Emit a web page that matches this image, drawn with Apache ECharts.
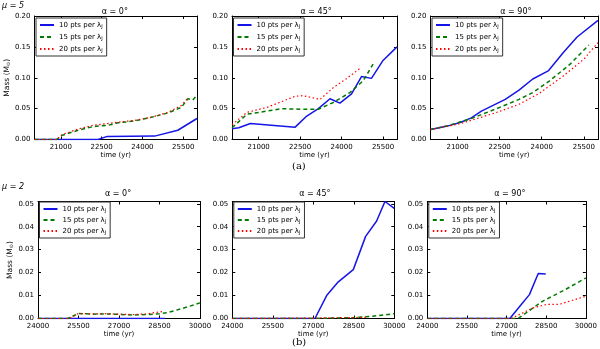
<!DOCTYPE html>
<html>
<head>
<meta charset="utf-8">
<script src="https://cdn.jsdelivr.net/npm/echarts@6/dist/echarts.min.js"></script>
<style>
  html, body { margin: 0; padding: 0; background: #fff; }
  #chart { width: 600px; height: 349px; }
</style>
</head>
<body>
<div id="chart"></div>
<script>
// tick values
const topTimeTicks = [21000, 22500, 24000, 25500];
const bottomTimeTicks = [24000, 25500, 27000, 28500, 30000];
const topMassTicks = [0, 0.05, 0.1, 0.15, 0.2];
const bottomMassTicks = [0, 0.01, 0.02, 0.03, 0.04, 0.05];

const resolutions = ['10', '15', '20'];
const angles = ['0', '45', '90'];

// mu = 5, [time (yr), mass (Msun)]
const mu5a0_10 = [[20035, 0], [22370, 0], [22710, 0.005], [24450, 0.0055], [25300, 0.015], [26005, 0.034]];
const mu5a0_15 = [[20035, 0], [20850, 0], [21030, 0.0065], [21640, 0.015], [22190, 0.021], [22740, 0.023], [23100, 0.027], [23710, 0.030], [24330, 0.036], [24940, 0.043], [25430, 0.052], [25670, 0.066], [25850, 0.064], [26005, 0.072]];
const mu5a0_20 = [[20035, 0], [20850, 0], [21050, 0.008], [21640, 0.017], [22190, 0.023], [22740, 0.026], [23100, 0.028], [23710, 0.031], [24330, 0.036], [24940, 0.044], [25430, 0.055], [25650, 0.066]];

const mu5a45_10 = [[20035, 0.0174], [20280, 0.019], [20700, 0.026], [22320, 0.020], [22740, 0.038], [23160, 0.050], [23580, 0.066], [23940, 0.059], [24360, 0.074], [24720, 0.102], [25080, 0.099], [25500, 0.128], [26005, 0.150]];
const mu5a45_15 = [[20035, 0.019], [20580, 0.041], [21300, 0.046], [21840, 0.050], [22500, 0.049], [23160, 0.049], [23700, 0.060], [24300, 0.076], [24780, 0.095], [25140, 0.122]];
const mu5a45_20 = [[20035, 0.024], [20580, 0.044], [21300, 0.052], [22320, 0.070], [22600, 0.071], [23220, 0.065], [23700, 0.084], [24160, 0.098], [24720, 0.117]];

const mu5a90_10 = [[20035, 0.0163], [20635, 0.0217], [21120, 0.028], [21490, 0.035], [21850, 0.046], [22700, 0.065], [23190, 0.080], [23680, 0.098], [24230, 0.111], [24770, 0.141], [25260, 0.166], [26005, 0.193]];
const mu5a90_15 = [[20035, 0.0163], [20635, 0.022], [21490, 0.034], [22340, 0.049], [23190, 0.065], [23680, 0.076], [24280, 0.095], [25010, 0.122], [25680, 0.153]];
const mu5a90_20 = [[20035, 0.016], [21120, 0.026], [22340, 0.043], [23190, 0.057], [23920, 0.075], [24770, 0.103], [25500, 0.130], [26005, 0.157]];

// mu = 2
const mu2a0_10 = [[24000, 0], [28700, 0]];
const mu2a0_15 = [[24000, 0], [25100, 0], [25500, 0.0022], [26000, 0.0019], [26500, 0.002], [27000, 0.0018], [27500, 0.0015], [28000, 0.0017], [28500, 0.0021], [28800, 0.0026], [29300, 0.0042], [30000, 0.0068]];
const mu2a0_20 = [[24000, 0], [25150, 0], [25500, 0.0022], [26000, 0.002], [26500, 0.0021], [27000, 0.0019], [27500, 0.0017], [28000, 0.002], [28400, 0.0027], [28600, 0.003]];

const mu2a45_10 = [[24000, 0], [27062, 0], [27494, 0.0100], [27926, 0.0160], [28481, 0.0213], [28938, 0.0358], [29346, 0.0425], [29654, 0.0510], [30000, 0.0480]];
const mu2a45_15 = [[24000, 0], [27000, 0], [28500, 0.0004], [29200, 0.001], [30000, 0.0021]];
const mu2a45_20 = [[24000, 0], [27000, 0.0002], [29000, 0.0005]];

const mu2a90_10 = [[24000, 0], [27123, 0], [27556, 0.0061], [27864, 0.0104], [28198, 0.0196], [28481, 0.0194]];
const mu2a90_15 = [[24000, 0], [27432, 0], [28358, 0.0075], [29222, 0.0126], [30000, 0.0177]];
const mu2a90_20 = [[24000, 0], [27185, 0], [27988, 0.0046], [28543, 0.0062], [29000, 0.0062], [30000, 0.0097]];

const panelData = [
  [mu5a0_10, mu5a0_15, mu5a0_20],
  [mu5a45_10, mu5a45_15, mu5a45_20],
  [mu5a90_10, mu5a90_15, mu5a90_20],
  [mu2a0_10, mu2a0_15, mu2a0_20],
  [mu2a45_10, mu2a45_15, mu2a45_20],
  [mu2a90_10, mu2a90_15, mu2a90_20]
];

const font = 'DejaVu Sans';
const lineStyles = [
  { color: '#1515e8', width: 1.5, type: 'solid' },
  { color: '#007a00', width: 1.5, type: [4, 3] },
  { color: '#ff0000', width: 1.2, type: [1.5, 2.5] }
];

// grid boxes in px
const grids = [
  { left: 34.5, top: 16, width: 162.5, height: 123.5 },
  { left: 232, top: 16, width: 165, height: 123.5 },
  { left: 430.5, top: 16, width: 167.5, height: 123.5 },
  { left: 38, top: 201.5, width: 162, height: 117 },
  { left: 232.3, top: 201.5, width: 162, height: 117 },
  { left: 427.3, top: 201.5, width: 162, height: 117 }
];

const xAxes = [], yAxes = [], series = [], legends = [], texts = [];

grids.forEach((g, i) => {
  const top = i < 3;
  const xTicks = top ? topTimeTicks : bottomTimeTicks;
  const yTicks = top ? topMassTicks : bottomMassTicks;
  const xRange = top ? [20035, 26005] : [24000, 30000];
  const yMax = top ? 0.2 : 0.051;
  const axisLine = { onZero: false, lineStyle: { color: '#000', width: 1 } };

  ['bottom', 'top'].forEach((pos) => {
    xAxes.push({
      type: 'value', gridIndex: i, position: pos, min: xRange[0], max: xRange[1],
      axisLine: axisLine,
      axisTick: { inside: true, length: 3, customValues: xTicks, lineStyle: { color: '#000' } },
      axisLabel: {
        show: pos === 'bottom', customValues: xTicks, margin: 4,
        fontFamily: font, fontSize: 7, color: '#000', formatter: (v) => String(v)
      },
      splitLine: { show: false },
      name: pos === 'bottom' ? 'time (yr)' : '',
      nameLocation: 'middle', nameGap: 12,
      nameTextStyle: { fontFamily: font, fontSize: 7, color: '#000' }
    });
  });

  ['left', 'right'].forEach((pos) => {
    const showName = pos === 'left' && (i === 0 || i === 3);
    yAxes.push({
      type: 'value', gridIndex: i, position: pos, min: 0, max: yMax,
      axisLine: axisLine,
      axisTick: { inside: true, length: 3, customValues: yTicks, lineStyle: { color: '#000' } },
      axisLabel: {
        show: pos === 'left', customValues: yTicks, margin: 4,
        fontFamily: font, fontSize: 7, color: '#000', formatter: (v) => v.toFixed(2)
      },
      splitLine: { show: false },
      name: showName ? 'Mass (M{s|⊙})' : '',
      nameLocation: 'middle', nameGap: 21, nameRotate: 90,
      nameTextStyle: {
        fontFamily: font, fontSize: 7.5, color: '#000',
        rich: { s: { fontFamily: font, fontSize: 5, verticalAlign: 'bottom' } }
      }
    });
  });

  panelData[i].forEach((points, k) => {
    series.push({
      type: 'line', name: resolutions[k], xAxisIndex: 2 * i, yAxisIndex: 2 * i,
      data: points, symbol: 'none', lineStyle: lineStyles[k], itemStyle: { color: lineStyles[k].color },
      clip: true, z: 2 + k
    });
  });

  legends.push({
    orient: 'vertical', left: g.left + 1.5, top: g.top + (top ? 2 : 0.5),
    data: resolutions, itemWidth: 14, itemHeight: 8, itemGap: top ? 4 : 3,
    padding: [3, 4, 3, 3], backgroundColor: '#fff', borderColor: '#333', borderWidth: 1,
    selectedMode: false,
    // hide the marker that the line icon carries, keep only the stroke
    itemStyle: { opacity: 0 },
    formatter: (name) => name + ' pts per λ{s|J}',
    textStyle: {
      fontFamily: font, fontSize: 7, color: '#000', lineHeight: 8,
      rich: { s: { fontFamily: font, fontSize: 5, verticalAlign: 'bottom', lineHeight: 8 } }
    }
  });

  texts.push({
    type: 'text', left: g.left + g.width / 2 - 14, top: top ? 8 : 190,
    style: { text: 'α = ' + angles[i % 3] + '°', font: '8px "DejaVu Sans"', fill: '#000' }
  });
});

texts.push(
  { type: 'text', left: 2, top: 2, style: { text: 'μ = 5', font: 'italic 8px "DejaVu Sans"', fill: '#000' } },
  { type: 'text', left: 2, top: 183, style: { text: 'μ = 2', font: 'italic 8px "DejaVu Sans"', fill: '#000' } },
  { type: 'text', left: 292, top: 161, style: { text: '(a)', font: '10px "DejaVu Serif"', fill: '#000' } },
  { type: 'text', left: 292, top: 337, style: { text: '(b)', font: '10px "DejaVu Serif"', fill: '#000' } }
);

const option = {
  animation: false,
  backgroundColor: '#fff',
  grid: grids,
  xAxis: xAxes,
  yAxis: yAxes,
  legend: legends,
  series: series,
  graphic: texts
};

const chart = echarts.init(document.getElementById('chart'));
chart.setOption(option);
</script>
</body>
</html>
